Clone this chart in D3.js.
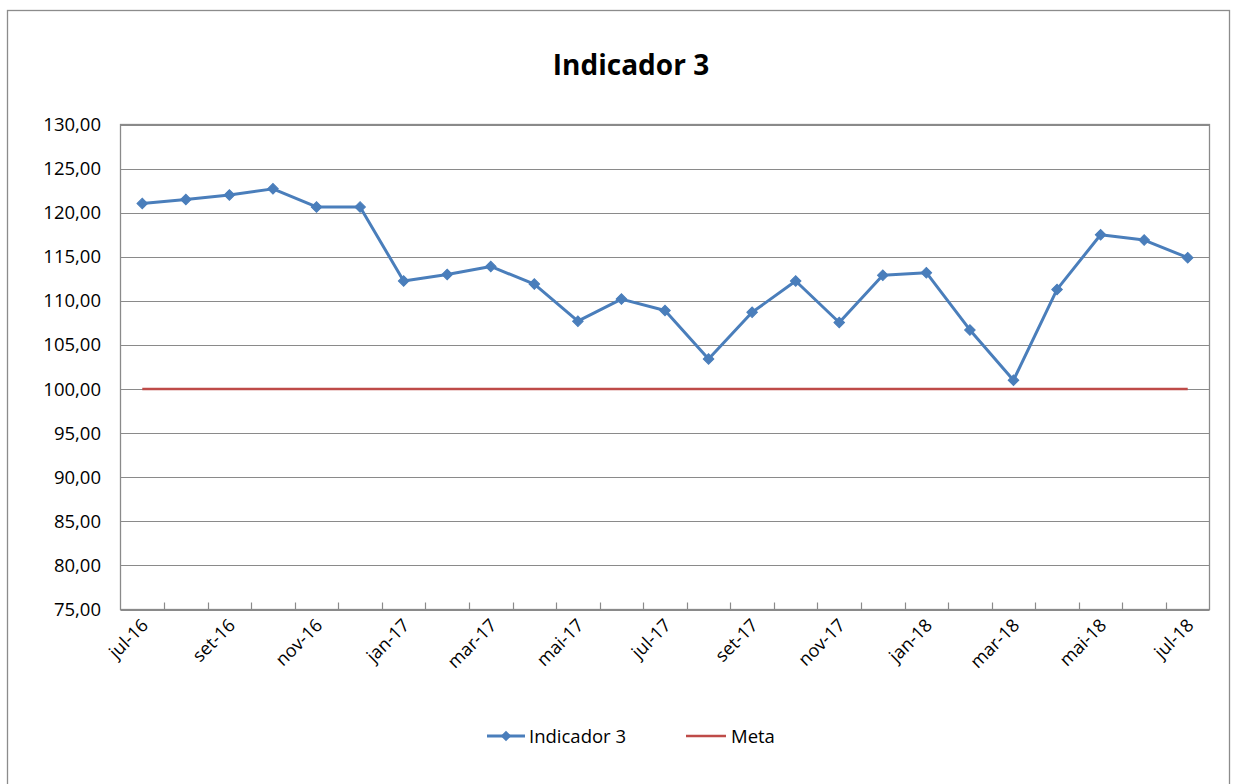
<!DOCTYPE html>
<html><head><meta charset="utf-8">
<script src="https://cdn.jsdelivr.net/npm/d3@7"></script>
<style>body{margin:0;background:#fff}</style>
</head><body>
<svg id="c" width="1233" height="784"></svg>
<script>
const months = ["jul-16","ago-16","set-16","out-16","nov-16","dez-16","jan-17","fev-17","mar-17","abr-17","mai-17","jun-17","jul-17","ago-17","set-17","out-17","nov-17","dez-17","jan-18","fev-18","mar-18","abr-18","mai-18","jun-18","jul-18"];
const indicador = [121.05,121.5,122.0,122.7,120.65,120.65,112.25,113.0,113.9,111.9,107.7,110.2,108.9,103.4,108.7,112.25,107.55,112.9,113.2,106.7,101.0,111.3,117.5,116.9,114.9];
const meta = months.map(() => 100);
const yTicks = [75,80,85,90,95,100,105,110,115,120,125,130];

const svg = d3.select("#c");
const font = "'Open Sans', 'Liberation Sans', sans-serif";
const m = {l:120.5, r:1209.5, t:124.5, b:609.5};

svg.append("rect").attr("x",7.5).attr("y",10.5).attr("width",1222).attr("height",800)
  .attr("fill","#fff").attr("stroke","#8c8c8c").attr("stroke-width",1.3);

svg.append("text").attr("x",631).attr("y",75).attr("text-anchor","middle")
  .attr("font-family",font).attr("font-weight","bold").attr("font-size",28)
  .attr("fill","#000").text("Indicador 3");

const x = d3.scaleBand().domain(months).range([m.l, m.r]);
const y = d3.scaleLinear().domain([75,130]).range([m.b, m.t]);
const xc = d => x(d) + x.bandwidth()/2;

// gridlines
svg.append("g").selectAll("line").data(yTicks).join("line")
  .attr("x1",m.l).attr("x2",m.r).attr("y1",d=>Math.round(y(d))+0.5).attr("y2",d=>Math.round(y(d))+0.5)
  .attr("stroke","#8a8a8a").attr("stroke-width",1.2);

// y labels
const fmt = d => d3.format(".2f")(d).replace(".",",");
svg.append("g").selectAll("text").data(yTicks).join("text")
  .attr("x",101).attr("y",d=>y(d)+6.5).attr("text-anchor","end")
  .attr("font-family",font).attr("font-size",18.5).attr("fill","#000").text(fmt);

// plot border
svg.append("rect").attr("x",m.l).attr("y",m.t).attr("width",m.r-m.l).attr("height",m.b-m.t)
  .attr("fill","none").attr("stroke","#8a8a8a").attr("stroke-width",1.3);

// x ticks (between categories)
const tickPos = months.slice(1).map(d => x(d));
svg.append("g").selectAll("line").data(tickPos).join("line")
  .attr("x1",d=>Math.round(d)+0.5).attr("x2",d=>Math.round(d)+0.5).attr("y1",m.b).attr("y2",m.b-7)
  .attr("stroke","#8a8a8a").attr("stroke-width",1.2);

// x labels every other
svg.append("g").selectAll("text").data(months.filter((d,i)=>i%2===0)).join("text")
  .attr("transform",d=>`translate(${xc(d)+7},${m.b+17}) rotate(-45)`)
  .attr("text-anchor","end").attr("font-family",font).attr("font-size",18).attr("fill","#000")
  .text(d=>d);

// meta line
const line = d3.line().x((d,i)=>xc(months[i])).y(d=>y(d));
svg.append("path").datum(meta).attr("d",line).attr("fill","none")
  .attr("stroke","#be4b48").attr("stroke-width",2.5);

// indicador line
svg.append("path").datum(indicador).attr("d",line).attr("fill","none")
  .attr("stroke","#4a7ebb").attr("stroke-width",3).attr("stroke-linejoin","round");
const diamond = d3.symbol().type(d3.symbolSquare).size(56);
svg.append("g").selectAll("path").data(indicador).join("path")
  .attr("transform",(d,i)=>`translate(${xc(months[i])},${y(d)}) rotate(45)`)
  .attr("d",diamond).attr("fill","#4a7ebb").attr("stroke","#4a7ebb").attr("stroke-width",1);

// legend
const lg = svg.append("g");
lg.append("line").attr("x1",487).attr("x2",525).attr("y1",736).attr("y2",736).attr("stroke","#4a7ebb").attr("stroke-width",3);
lg.append("path").attr("transform","translate(506,736) rotate(45)").attr("d",diamond).attr("fill","#4a7ebb");
lg.append("text").attr("x",529).attr("y",742.5).attr("font-family",font).attr("font-size",18.5).text("Indicador 3");
lg.append("line").attr("x1",686).attr("x2",726).attr("y1",736).attr("y2",736).attr("stroke","#be4b48").attr("stroke-width",2.5);
lg.append("text").attr("x",731).attr("y",742.5).attr("font-family",font).attr("font-size",18.5).text("Meta");
</script>
</body></html>
